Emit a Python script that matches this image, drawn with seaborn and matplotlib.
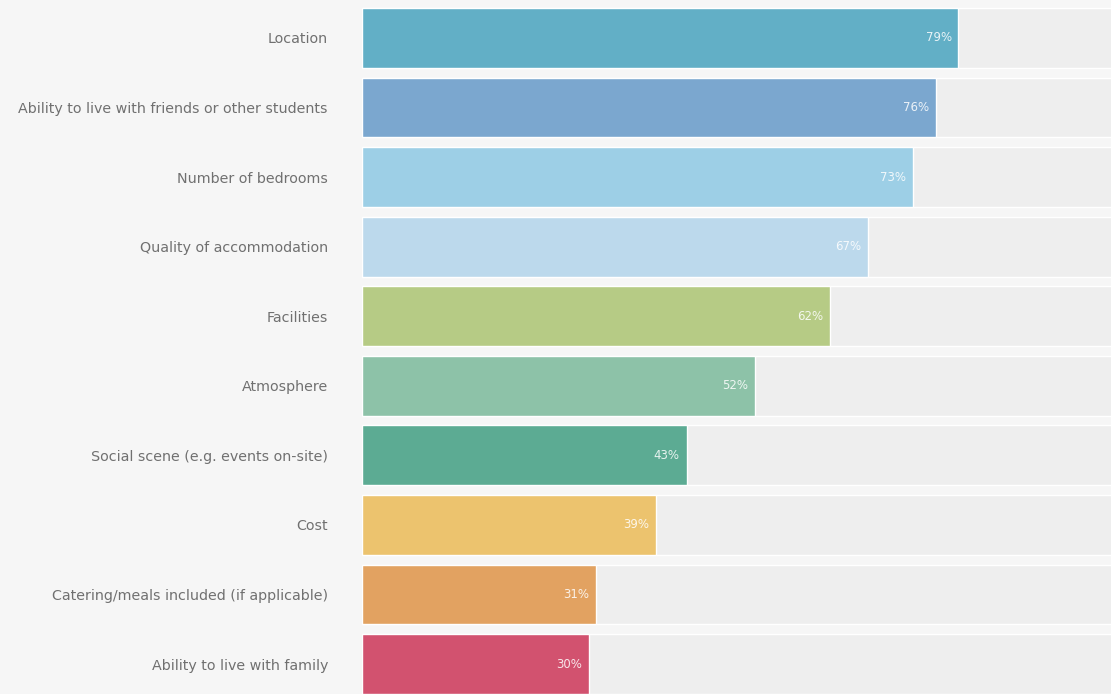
import matplotlib
matplotlib.use("Agg")
import matplotlib.pyplot as plt
import seaborn as sns
import pandas as pd

categories = [
    "Location",
    "Ability to live with friends or other students",
    "Number of bedrooms",
    "Quality of accommodation",
    "Facilities",
    "Atmosphere",
    "Social scene (e.g. events on-site)",
    "Cost",
    "Catering/meals included (if applicable)",
    "Ability to live with family",
]
values = [79, 76, 73, 67, 62, 52, 43, 39, 31, 30]
track = [100] * len(categories)
colors = ["#62afc6", "#7ba7cf", "#9dcfe6", "#bcd9ec", "#b6cb85",
          "#8dc2a8", "#5cab93", "#ecc36e", "#e2a261", "#d2526f"]

sns.set_theme(style="white")
plt.rcParams['font.family'] = ['DejaVu Sans']

bg = "#f6f6f6"
fig = plt.figure(figsize=(11.11, 6.94), dpi=100, facecolor=bg)
ax = fig.add_axes([362 / 1111, 0, 1 - 362 / 1111, 1])
ax.set_facecolor(bg)

df = pd.DataFrame({"cat": categories, "val": values, "track": track})

sns.barplot(data=df, x="track", y="cat", color="#eeeeee", width=0.86,
            ax=ax, saturation=1, orient="h")
sns.barplot(data=df, x="val", y="cat", hue="cat", palette=colors, width=0.86,
            ax=ax, saturation=1, orient="h", legend=False)

ax.set_xlim(0, 749 / 7.55)
ax.set_ylim(9.43, -0.546)
ax.set_xlabel("")
ax.set_ylabel("")
ax.set_xticks([])
for s in ax.spines.values():
    s.set_visible(False)
ax.tick_params(axis="y", length=0, pad=24.5, labelsize=10.3, labelcolor="#707070")

for i, v in enumerate(values):
    ax.text(v - 0.9, i, f"{v}%", ha="right", va="center", color="white",
            fontsize=8.5, alpha=0.85)

fig.savefig("out.png", dpi=100, facecolor=bg)
